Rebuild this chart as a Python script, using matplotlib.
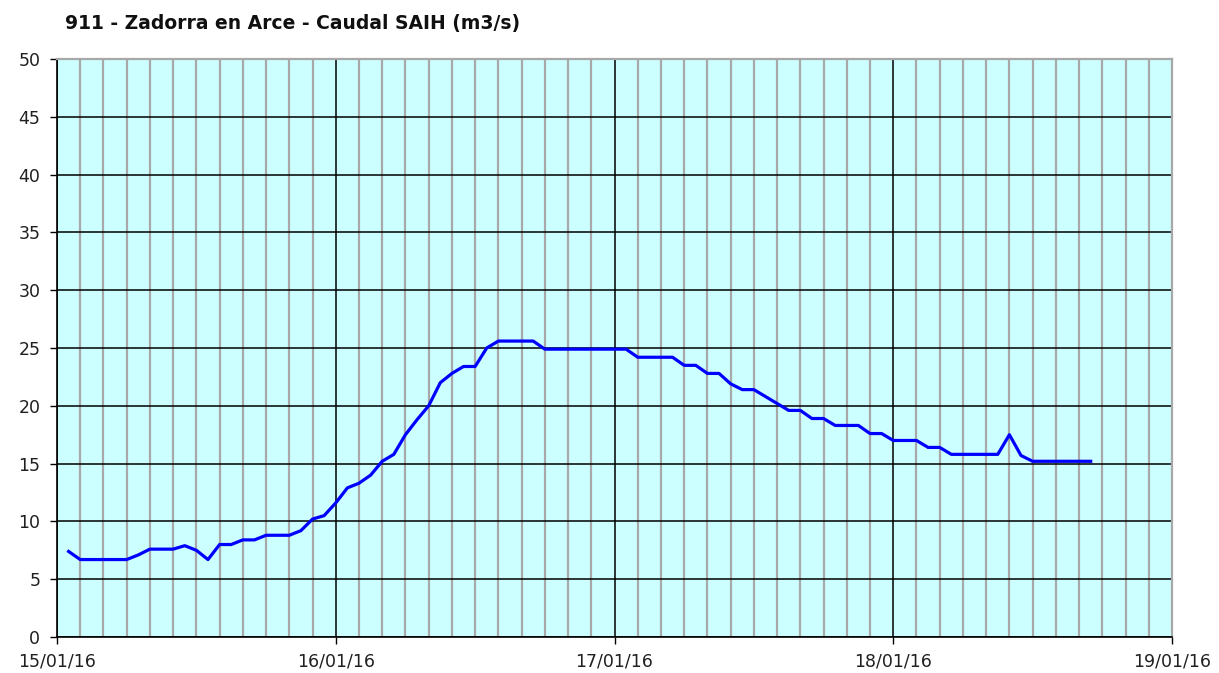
import matplotlib
matplotlib.use('Agg')
import matplotlib.pyplot as plt
import matplotlib.dates as mdates
import numpy as np
import pandas as pd

# caudal horario, desde 15/01/16 01:00
hora_inicio = '2016-01-15 01:00'
caudal = [7.4, 6.7, 6.7, 6.7, 6.7, 6.7, 7.1, 7.6, 7.6, 7.6,
          7.9, 7.5, 6.7, 8.0, 8.0, 8.4, 8.4, 8.8, 8.8, 8.8,
          9.2, 10.2, 10.5, 11.6, 12.9, 13.3, 14.0, 15.2, 15.8, 17.5,
          18.8, 20.0, 22.0, 22.8, 23.4, 23.4, 25.0, 25.6, 25.6, 25.6,
          25.6, 24.9, 24.9, 24.9, 24.9, 24.9, 24.9, 24.9, 24.9, 24.2,
          24.2, 24.2, 24.2, 23.5, 23.5, 22.8, 22.8, 21.9, 21.4, 21.4,
          20.8, 20.2, 19.6, 19.6, 18.9, 18.9, 18.3, 18.3, 18.3, 17.6,
          17.6, 17.0, 17.0, 17.0, 16.4, 16.4, 15.8, 15.8, 15.8, 15.8,
          15.8, 17.5, 15.7, 15.2, 15.2, 15.2, 15.2, 15.2, 15.2]
fechas = pd.date_range(hora_inicio, periods=len(caudal), freq='h')

x_ini = pd.Timestamp('2016-01-15')
x_fin = pd.Timestamp('2016-01-19')
y_max = 50

fig = plt.figure(figsize=(12.19, 6.73), dpi=100)
ax = fig.add_axes([57/1219, 1 - 637/673, (1172 - 57)/1219, (637 - 59)/673])
ax.set_facecolor('#CCFFFF')

# rejilla: cada 2 horas gris, cada dia negro, horizontal cada 5
ax.xaxis.set_major_locator(mdates.DayLocator())
ax.xaxis.set_minor_locator(mdates.HourLocator(byhour=range(0, 24, 2)))
ax.xaxis.set_major_formatter(mdates.DateFormatter('%d/%m/%y'))
ax.grid(True, which='minor', axis='x', color='#A8A8A8', lw=1.6)
ax.grid(True, which='major', axis='x', color='black', lw=1.1)
ax.grid(True, which='major', axis='y', color='black', lw=1.1)
ax.set_axisbelow(True)

ax.plot(fechas, caudal, color='#0000FF', lw=2.3, solid_joinstyle='round')

ax.set_xlim(x_ini, x_fin)
ax.set_ylim(0, y_max)
ax.set_yticks(np.arange(0, y_max + 1, 5))

ax.tick_params(axis='both', which='major', labelsize=12.5, length=5, width=1,
               color='black', labelcolor='#202020')
ax.tick_params(axis='x', which='major', pad=6)
ax.tick_params(axis='y', which='major', pad=7)
ax.tick_params(axis='x', which='minor', length=0)

for s in ['top', 'right']:
    ax.spines[s].set_color('#A8A8A8')
    ax.spines[s].set_linewidth(1.6)
for s in ['left', 'bottom']:
    ax.spines[s].set_color('black')
    ax.spines[s].set_linewidth(1.2)

fig.text(65/1219, 1 - 24/673, '911 - Zadorra en Arce - Caudal SAIH (m3/s)',
         fontsize=13.5, fontweight='bold', va='center', ha='left', color='#101010')

fig.savefig('out.png', dpi=100)
